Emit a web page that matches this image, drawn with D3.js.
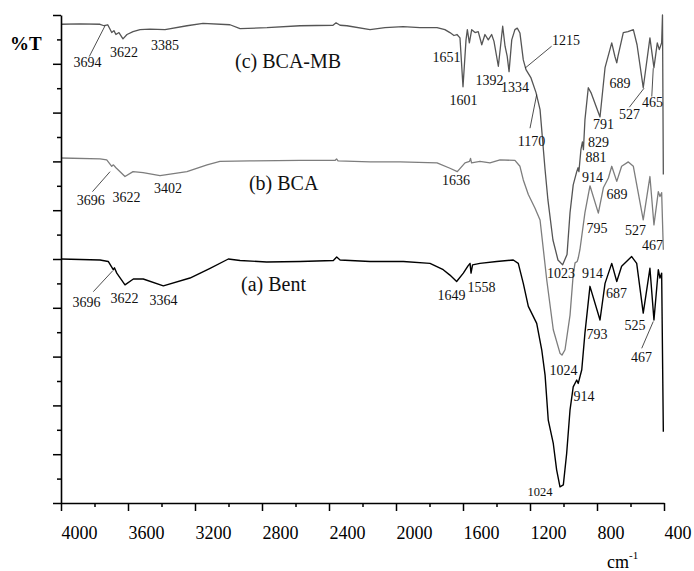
<!DOCTYPE html>
<html>
<head>
<meta charset="utf-8">
<script src="https://cdn.jsdelivr.net/npm/d3@7/dist/d3.min.js"></script>
<style>
  html, body { margin: 0; padding: 0; background: #fff; }
  svg { display: block; }
  text { font-family: "Liberation Serif", "Times New Roman", serif; }
</style>
</head>
<body>
<svg id="chart" width="694" height="571"></svg>
<script>
// ---------- data (wavenumber cm-1, %T arbitrary offset units) ----------
const seriesNames = ["(a) Bent", "(b) BCA", "(c) BCA-MB"];

const bcaMB = [
  [4000,98.1],[3887,98.2],[3767,98.1],[3743,97.8],[3721,98.0],[3697,96.4],[3684,96.8],[3672,96.0],
  [3654,96.4],[3630,95.1],[3606,96.0],[3570,96.6],[3528,97.0],[3469,97.1],[3379,97.0],[3248,97.8],
  [3152,98.3],[2991,98.0],[2931,97.2],[2770,97.4],[2573,97.8],[2376,97.9],[2358,98.4],[2334,97.9],
  [2293,97.8],[2155,97.0],[2066,97.4],[1958,97.6],[1857,97.4],[1755,97.4],[1708,97.0],[1678,96.4],
  [1654,95.8],[1636,96.0],[1618,95.3],[1600,85.3],[1582,94.9],[1574,97.0],[1562,94.3],[1548,97.0],
  [1528,96.4],[1509,96.6],[1488,93.9],[1469,96.0],[1449,94.9],[1429,96.0],[1415,94.6],[1389,89.5],
  [1363,97.7],[1349,93.6],[1336,91.5],[1325,88.4],[1309,94.9],[1290,97.0],[1276,97.3],[1260,96.3],
  [1240,90.8],[1224,88.8],[1194,87.1],[1164,84.1],[1140,80.6],[1110,68.3],[1093,62.1],[1063,53.9],
  [1033,49.8],[1005,48.8],[979,50.9],[961,59.5],[942,65.2],[921,67.9],[913,68.7],[908,67.9],
  [896,72.4],[887,74.0],[881,72.4],[872,78.5],[852,85.1],[836,84.1],[782,79.1],[752,89.2],
  [712,94.3],[693,91.5],[682,90.2],[675,91.5],[643,96.4],[615,96.6],[583,97.0],[561,93.9],
  [524,85.1],[484,95.3],[460,89.2],[440,94.3],[428,92.9],[414,94.3],[409,100],[404,67.3]
];

const bca = [
  [4000,70.7],[3767,70.5],[3727,70.3],[3697,69.0],[3687,69.3],[3672,68.7],[3618,66.9],[3570,67.9],
  [3510,67.7],[3409,67.1],[3248,67.9],[3128,69.3],[3051,70.0],[2872,70.1],[2573,70.2],[2364,70.2],
  [2355,70.5],[2346,70.1],[2155,69.9],[1976,69.9],[1755,69.7],[1678,68.6],[1634,67.9],[1588,69.7],
  [1561,70.0],[1555,70.6],[1549,69.7],[1499,70.0],[1439,69.7],[1379,70.3],[1290,70.2],[1260,69.0],
  [1240,66.2],[1210,63.2],[1170,60.4],[1140,58.0],[1100,45.7],[1061,35.5],[1021,30.7],[1009,30.3],
  [991,31.4],[961,38.5],[942,46.8],[931,49.2],[918,49.5],[912,50.2],[902,51.9],[872,59.5],
  [842,65.0],[792,59.4],[762,64.6],[732,66.6],[712,69.0],[682,65.9],[653,69.0],[613,69.9],
  [583,69.0],[524,58.0],[484,66.9],[460,57.0],[434,63.8],[424,62.8],[414,63.6],[404,51.9]
];

const bent = [
  [4000,50.0],[3767,49.8],[3718,49.5],[3688,47.8],[3681,48.2],[3667,47.1],[3618,44.7],[3568,45.9],
  [3509,45.9],[3389,44.5],[3230,46.1],[3110,48.1],[3001,50.0],[2931,49.7],[2772,49.4],[2573,49.5],
  [2374,49.7],[2354,50.4],[2334,49.8],[2155,49.5],[1956,49.5],[1797,49.1],[1718,47.8],[1678,46.7],
  [1638,45.4],[1598,47.1],[1570,48.6],[1558,49.1],[1552,47.1],[1543,48.8],[1499,49.1],[1399,49.5],
  [1300,49.8],[1270,49.1],[1240,45.0],[1210,40.3],[1160,36.8],[1130,31.4],[1110,26.2],[1091,17.0],
  [1061,12.2],[1041,6.8],[1021,3.3],[1001,3.7],[981,10.2],[961,19.1],[942,23.8],[921,25.2],
  [912,24.5],[891,27.3],[872,34.8],[842,44.4],[782,37.5],[752,45.0],[712,49.1],[682,45.4],
  [653,48.5],[593,50.5],[563,49.1],[524,38.9],[484,48.1],[460,37.5],[434,47.8],[424,46.1],
  [414,47.1],[404,14.6]
];

// peak annotations: [text, wavenumber, %T] (label centre)
const peakLabelsC = [
  ["3694",3842,90.4],["3622",3624,92.5],["3385",3379,93.9],["1651",1699,91.3],["1601",1597,82.6],
  ["1392",1442,86.7],["1334",1290,85.2],["1215",985,94.9],["1170",1191,74.2],["829",791,74.0],
  ["881",806,70.9],["914",827,66.8],["791",761,77.7],["689",663,86.1],["527",606,79.6],["465",469,82.2]
];
const peakLabelsB = [
  ["3696",3823,62.1],["3622",3609,62.7],["3402",3361,64.6],["1636",1642,66.2],["914",827,47.2],
  ["1023",1015,47.2],["795",800,56.4],["689",681,63.2],["527",570,56.0],["467",469,52.9],["1024",1000,27.3]
];
const peakLabelsA = [
  ["3696",3848,41.2],["3622",3621,42.0],["3364",3388,41.6],["1649",1669,42.6],["1558",1490,44.3],
  ["687",684,43.1],["793",800,34.7],["525",573,36.5],["467",534,29.9],["914",878,21.9]
];
const peakLabelsSmall = [["1024",1140,2.3]];

// leader lines: [wn1, T1, wn2, T2]
const leaders = [
  [3831,91.5,3737,97.8],[1071,93.6,1230,89.1],[1200,76.8,1160,83.7],[607,81.1,519,85.0],
  [473,83.3,464,89.1],[3812,63.8,3707,67.9],[3807,43.3,3691,47.6],[533,31.7,464,37.2]
];

// series label anchors (left baseline)
const seriesLabelPos = [[2925,43.5],[2878,64.2],[2961,89.1]];

const xMajorTicks = [4000,3600,3200,2800,2400,2000,1600,1200,800,400];
const xMinorTicks = [3800,3400,3000,2600,2200,1800,1400,1000,600];
const yMajorTicks = [0,10,20,30,40,50,60,70,80,90,100];
const yMinorTicks = [5,15,25,35,45,55,65,75,85,95];

// ---------- chart ----------
const serif = '"Liberation Serif", "Times New Roman", serif';
const svg = d3.select("#chart");
const plotL = 61, plotR = 664, plotT = 15, plotB = 503;
const x = d3.scaleLinear().domain([4000,400]).range([plotL,plotR]);
const y = d3.scaleLinear().domain([0,100]).range([plotB,plotT]);

const line = d3.line().x(d => x(d[0])).y(d => y(d[1]));

const curves = [
  {data: bent, color: "#000000", w: 1.4},
  {data: bca, color: "#7d7d7d", w: 1.3},
  {data: bcaMB, color: "#555555", w: 1.3}
];
curves.forEach(c => {
  svg.append("path").datum(c.data).attr("d", line)
    .attr("fill","none").attr("stroke", c.color).attr("stroke-width", c.w)
    .attr("stroke-linejoin","round");
});

// leader lines
svg.append("g").selectAll("line").data(leaders).join("line")
  .attr("x1", d => x(d[0])).attr("y1", d => y(d[1]))
  .attr("x2", d => x(d[2])).attr("y2", d => y(d[3]))
  .attr("stroke","#222").attr("stroke-width",0.8);

// peak labels
function addLabels(arr, size) {
  svg.append("g").attr("font-family", serif).selectAll("text").data(arr).join("text")
    .attr("x", d => x(d[1])).attr("y", d => y(d[2]))
    .attr("dy","0.35em").attr("text-anchor","middle")
    .attr("font-size", size).attr("fill","#111").text(d => d[0]);
}
addLabels(peakLabelsC, 14);
addLabels(peakLabelsB, 14);
addLabels(peakLabelsA, 14);
addLabels(peakLabelsSmall, 12.5);

// series labels
svg.append("g").attr("font-family", serif).selectAll("text").data(seriesNames).join("text")
  .attr("x", (d,i) => x(seriesLabelPos[i][0]))
  .attr("y", (d,i) => y(seriesLabelPos[i][1]))
  .attr("font-size", 20).attr("fill","#111").text(d => d);

// axes
const xAxisMajor = d3.axisBottom(x).tickValues(xMajorTicks).tickSize(8).tickSizeOuter(0)
  .tickFormat(d3.format("d"));
const gx = svg.append("g").attr("transform", `translate(0,${plotB})`).call(xAxisMajor)
  .attr("font-family", serif).attr("font-size", 18);
gx.selectAll("text").attr("text-anchor","start").attr("y",36).attr("dy",0)
  .attr("font-size",18).attr("fill","#000").attr("font-family", serif);
const gxm = svg.append("g").attr("transform", `translate(0,${plotB})`)
  .call(d3.axisBottom(x).tickValues(xMinorTicks).tickSize(4).tickSizeOuter(0).tickFormat(""));
gxm.select(".domain").remove();

const gy = svg.append("g").attr("transform", `translate(${plotL},0)`)
  .call(d3.axisLeft(y).tickValues(yMajorTicks).tickSize(8).tickSizeOuter(0).tickFormat(""));
const gym = svg.append("g").attr("transform", `translate(${plotL},0)`)
  .call(d3.axisLeft(y).tickValues(yMinorTicks).tickSize(4).tickSizeOuter(0).tickFormat(""));
gym.select(".domain").remove();

svg.selectAll(".domain").attr("stroke","#000").attr("stroke-width",1.6);
svg.selectAll(".tick line").attr("stroke","#000").attr("stroke-width",1.5);

// axis titles
svg.append("text").attr("x",10).attr("y",50).attr("font-size",19).attr("font-family", serif)
  .attr("font-weight","bold").attr("fill","#000").text("%T");
const unit = svg.append("text").attr("x",607).attr("y",568).attr("font-size",18)
  .attr("font-family", serif).attr("fill","#000");
unit.append("tspan").text("cm");
unit.append("tspan").attr("font-size",11).attr("dy",-9).text("-1");
</script>
</body>
</html>
